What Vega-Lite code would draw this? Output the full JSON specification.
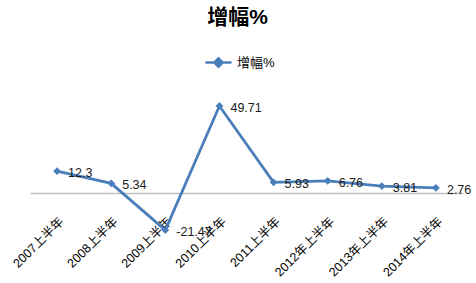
{
  "$schema": "https://vega.github.io/schema/vega-lite/v6.json",
  "width": 433,
  "height": 157,
  "autosize": {"type": "none"},
  "padding": {"left": 30, "top": 88, "right": 13, "bottom": 38},
  "background": "white",
  "title": {"text": "增幅%", "fontSize": 21, "font": "Liberation Sans, Noto Sans CJK SC", "fontWeight": "bold", "color": "#000000", "anchor": "middle", "frame": "group", "dx": -9, "offset": 20},
  "data": {"values": [
    {"period": "2007上半年", "value": 12.3, "series": "增幅%"},
    {"period": "2008上半年", "value": 5.34, "series": "增幅%"},
    {"period": "2009上半年", "value": -21.47, "series": "增幅%"},
    {"period": "2010上半年", "value": 49.71, "series": "增幅%"},
    {"period": "2011上半年", "value": 5.93, "series": "增幅%"},
    {"period": "2012年上半年", "value": 6.76, "series": "增幅%"},
    {"period": "2013年上半年", "value": 3.81, "series": "增幅%"},
    {"period": "2014年上半年", "value": 2.76, "series": "增幅%"}
  ]},
  "encoding": {
    "x": {"field": "period", "type": "nominal", "sort": null,
      "axis": {"title": null, "labelAngle": -45, "labelAlign": "right", "labelBaseline": "middle", "ticks": false, "grid": false,
        "domainColor": "#BFBFBF", "domainWidth": 1.5, "offset": -52, "labelFont": "Liberation Sans, Noto Sans CJK SC", "labelFontSize": 12.5, "labelColor": "#000000", "labelPadding": 26, "labelOffset": 4}},
    "y": {"field": "value", "type": "quantitative", "scale": {"domain": [-30, 60], "nice": false, "zero": false}, "axis": null}
  },
  "layer": [
    {
      "mark": {"type": "line", "strokeWidth": 2.75, "point": {"shape": "diamond", "size": 60, "filled": true, "color": "#4A7EBB"}},
      "encoding": {
        "color": {"field": "series", "type": "nominal", "scale": {"range": ["#4A7EBB"]},
          "legend": {"orient": "none", "legendX": 174, "legendY": -40, "title": null,
            "symbolType": "M-1,0H1M0,-0.32L0.32,0L0,0.32L-0.32,0Z", "symbolSize": 676, "symbolStrokeWidth": 2.5,
            "symbolFillColor": "#4A7EBB", "symbolStrokeColor": "#4A7EBB",
            "labelFont": "Liberation Sans, Noto Sans CJK SC", "labelFontSize": 13, "labelColor": "#000000", "labelOffset": 4}}
      }
    },
    {
      "mark": {"type": "text", "align": "left", "baseline": "middle", "dx": 11, "dy": 2, "font": "Liberation Sans", "fontSize": 12.5, "color": "#1a1a1a"},
      "encoding": {"text": {"field": "value", "type": "nominal"}}
    }
  ],
  "config": {"view": {"stroke": null}}
}
